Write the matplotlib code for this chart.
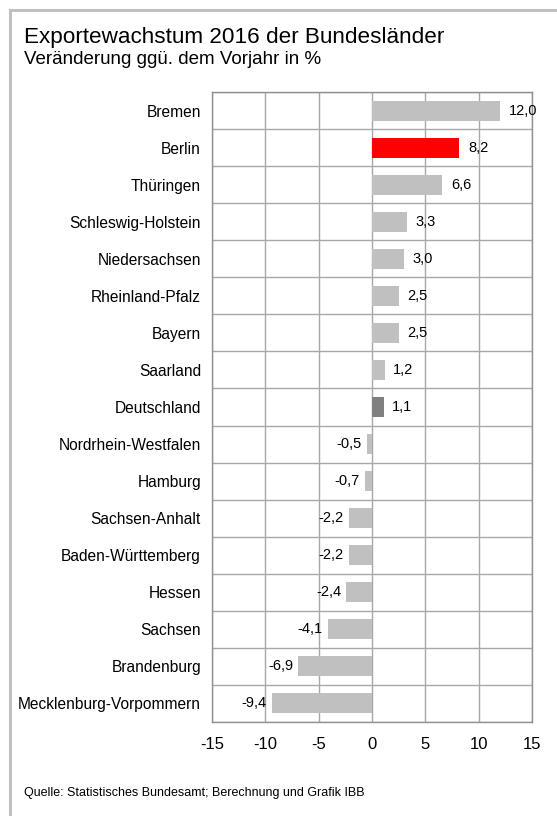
import matplotlib.pyplot as plt
from matplotlib.lines import Line2D

plt.rcParams["font.family"] = ["Liberation Sans", "DejaVu Sans"]

laender = [
    "Bremen", "Berlin", "Thüringen", "Schleswig-Holstein", "Niedersachsen",
    "Rheinland-Pfalz", "Bayern", "Saarland", "Deutschland",
    "Nordrhein-Westfalen", "Hamburg", "Sachsen-Anhalt", "Baden-Württemberg",
    "Hessen", "Sachsen", "Brandenburg", "Mecklenburg-Vorpommern",
]
wachstum = [12.0, 8.2, 6.6, 3.3, 3.0, 2.5, 2.5, 1.2, 1.1,
            -0.5, -0.7, -2.2, -2.2, -2.4, -4.1, -6.9, -9.4]
x_ticks = [-15, -10, -5, 0, 5, 10, 15]

colors = []
for name in laender:
    if name == "Berlin":
        colors.append("#FF0000")
    elif name == "Deutschland":
        colors.append("#808080")
    else:
        colors.append("#C0C0C0")

fig = plt.figure(figsize=(5.57, 8.16), dpi=100)
W, H = 557, 816
ax = fig.add_axes([212 / W, 1 - 722 / H, 320 / W, 630 / H])

pos = list(range(len(laender)))
ax.barh(pos, wachstum, height=0.54, color=colors, edgecolor="none", zorder=3)

ax.set_xlim(-15, 15)
ax.set_ylim(len(laender) - 0.5, -0.5)
ax.set_xticks(x_ticks)
ax.set_xticklabels([str(t) for t in x_ticks], fontsize=12)
ax.set_yticks(pos)
ax.set_yticklabels(laender, fontsize=11.2)
ax.tick_params(length=0, pad=8)
ax.tick_params(axis="x", pad=11)

for t in x_ticks:
    ax.axvline(t, color="#A8A8A8", lw=1.0, zorder=1)
for b in range(len(laender) + 1):
    ax.axhline(b - 0.5, color="#A8A8A8", lw=1.0, zorder=1)
for s in ax.spines.values():
    s.set_color("#909090")
    s.set_linewidth(1.0)

for p, v in zip(pos, wachstum):
    label = f"{v:.1f}".replace(".", ",")
    if v >= 0:
        ax.text(v + 0.8, p, label, va="center", ha="left", fontsize=10.5, zorder=4)
    else:
        ax.text(v - 0.5, p, label, va="center", ha="right", fontsize=10.5, zorder=4)

fig.text(24 / W, 1 - 37 / H, "Exportewachstum 2016 der Bundesländer",
         fontsize=16.2, va="center", ha="left")
fig.text(24 / W, 1 - 60 / H, "Veränderung ggü. dem Vorjahr in %",
         fontsize=13.5, va="center", ha="left")
fig.text(24 / W, 1 - 793 / H,
         "Quelle: Statistisches Bundesamt; Berechnung und Grafik IBB",
         fontsize=9, va="center", ha="left")

# gray frame (top and left only)
fig.add_artist(Line2D([10 / W, 1], [1 - 10 / H, 1 - 10 / H],
                      transform=fig.transFigure, color="#C0C0C0", lw=2.2))
fig.add_artist(Line2D([10 / W, 10 / W], [0, 1 - 10 / H],
                      transform=fig.transFigure, color="#C0C0C0", lw=2.2))

fig.savefig("out.png", dpi=100)
